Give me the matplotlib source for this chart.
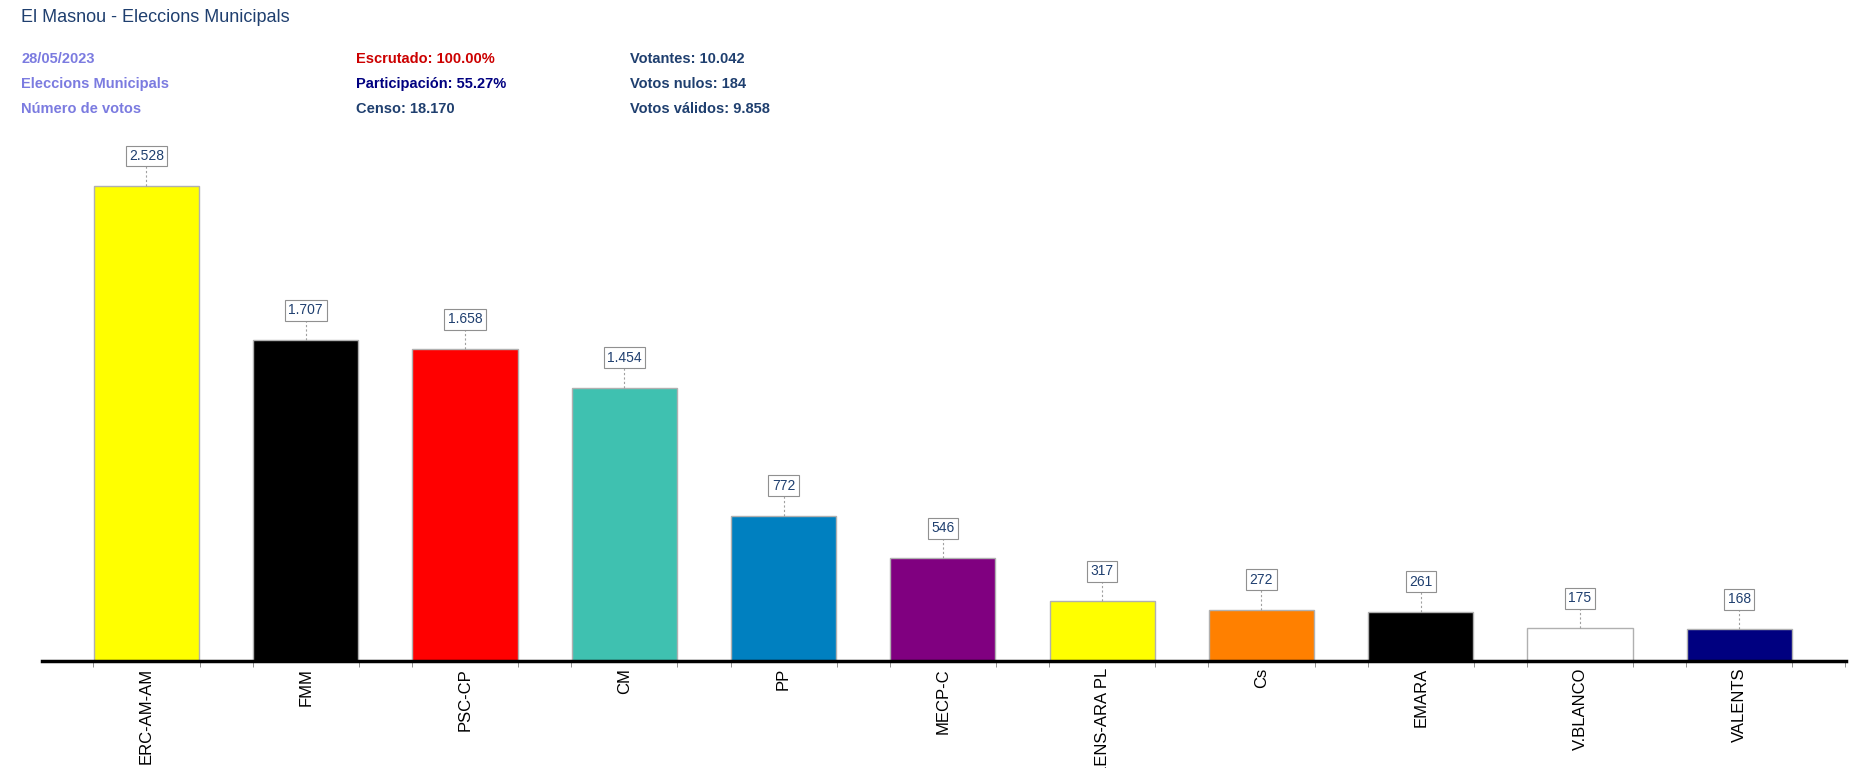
import matplotlib
matplotlib.use("Agg")
import matplotlib.pyplot as plt

categories = ["ERC-AM-AM", "FMM", "PSC-CP", "CM", "PP", "MECP-C", "LENS-ARA PL", "Cs", "EMARA", "V.BLANCO", "VALENTS"]
votes = [2528, 1707, 1658, 1454, 772, 546, 317, 272, 261, 175, 168]
labels = ["2.528", "1.707", "1.658", "1.454", "772", "546", "317", "272", "261", "175", "168"]
colors = ["#FFFF00", "#000000", "#FF0000", "#3FC1B0", "#0080C0", "#800080", "#FFFF00", "#FF8000", "#000000", "#FFFFFF", "#000080"]

W, H = 1861, 768
fig = plt.figure(figsize=(W/100, H/100), dpi=100)
plt.rcParams["font.family"] = "Liberation Sans"

base_px = 661
top_px = 140
ax = fig.add_axes([42/W, 1-base_px/H, (1846-42)/W, (base_px-top_px)/H])
ppv = (base_px-186)/2528
ax.set_ylim(0, (base_px-top_px)/ppv)
ax.set_xlim(-0.656, 10.67)
x = list(range(len(categories)))
ax.bar(x, votes, width=0.66, color=colors, edgecolor="#B0B0B0", linewidth=1)
off = 30/ppv
for xi, v, l in zip(x, votes, labels):
    ax.plot([xi, xi], [v, v+off], ls=(0, (2, 2)), color="#A0A0A0", lw=0.8)
    ax.text(xi, v+off, l, ha="center", va="center", fontsize=10, color="#1F3F6F",
            bbox=dict(boxstyle="square,pad=0.25", fc="white", ec="#909090", lw=0.8))
for s in ["top", "right", "left"]:
    ax.spines[s].set_visible(False)
ax.spines["bottom"].set_linewidth(2.5)
ax.set_yticks([])
ax.set_xticks(x)
ax.set_xticklabels(categories, rotation=90, fontsize=12, va="top")
ax.tick_params(axis="x", length=0, pad=5)
minor = [i + d for i in range(-1, 11) for d in (1/3, 2/3)]
ax.set_xticks([m for m in minor if -0.656 < m < 10.67], minor=True)
ax.tick_params(axis="x", which="minor", length=4, color="#808080", direction="out")

def t(xp, yp, s, c, **kw):
    fig.text(xp/W, 1-yp/H, s, color=c, va="center", ha="left", **kw)

t(21, 18, "El Masnou - Eleccions Municipals", "#1F3F6F", fontsize=13)
t(21, 59, "28/05/2023", "#7B7BE0", fontsize=10.5, fontweight="bold")
t(21, 84, "Eleccions Municipals", "#7B7BE0", fontsize=10.5, fontweight="bold")
t(21, 109, "Número de votos", "#7B7BE0", fontsize=10.5, fontweight="bold")
t(356, 59, "Escrutado: 100.00%", "#CC0000", fontsize=10.5, fontweight="bold")
t(356, 84, "Participación: 55.27%", "#000080", fontsize=10.5, fontweight="bold")
t(356, 109, "Censo: 18.170", "#1F3F6F", fontsize=10.5, fontweight="bold")
t(630, 59, "Votantes: 10.042", "#1F3F6F", fontsize=10.5, fontweight="bold")
t(630, 84, "Votos nulos: 184", "#1F3F6F", fontsize=10.5, fontweight="bold")
t(630, 109, "Votos válidos: 9.858", "#1F3F6F", fontsize=10.5, fontweight="bold")

fig.savefig("out.png", dpi=100)
